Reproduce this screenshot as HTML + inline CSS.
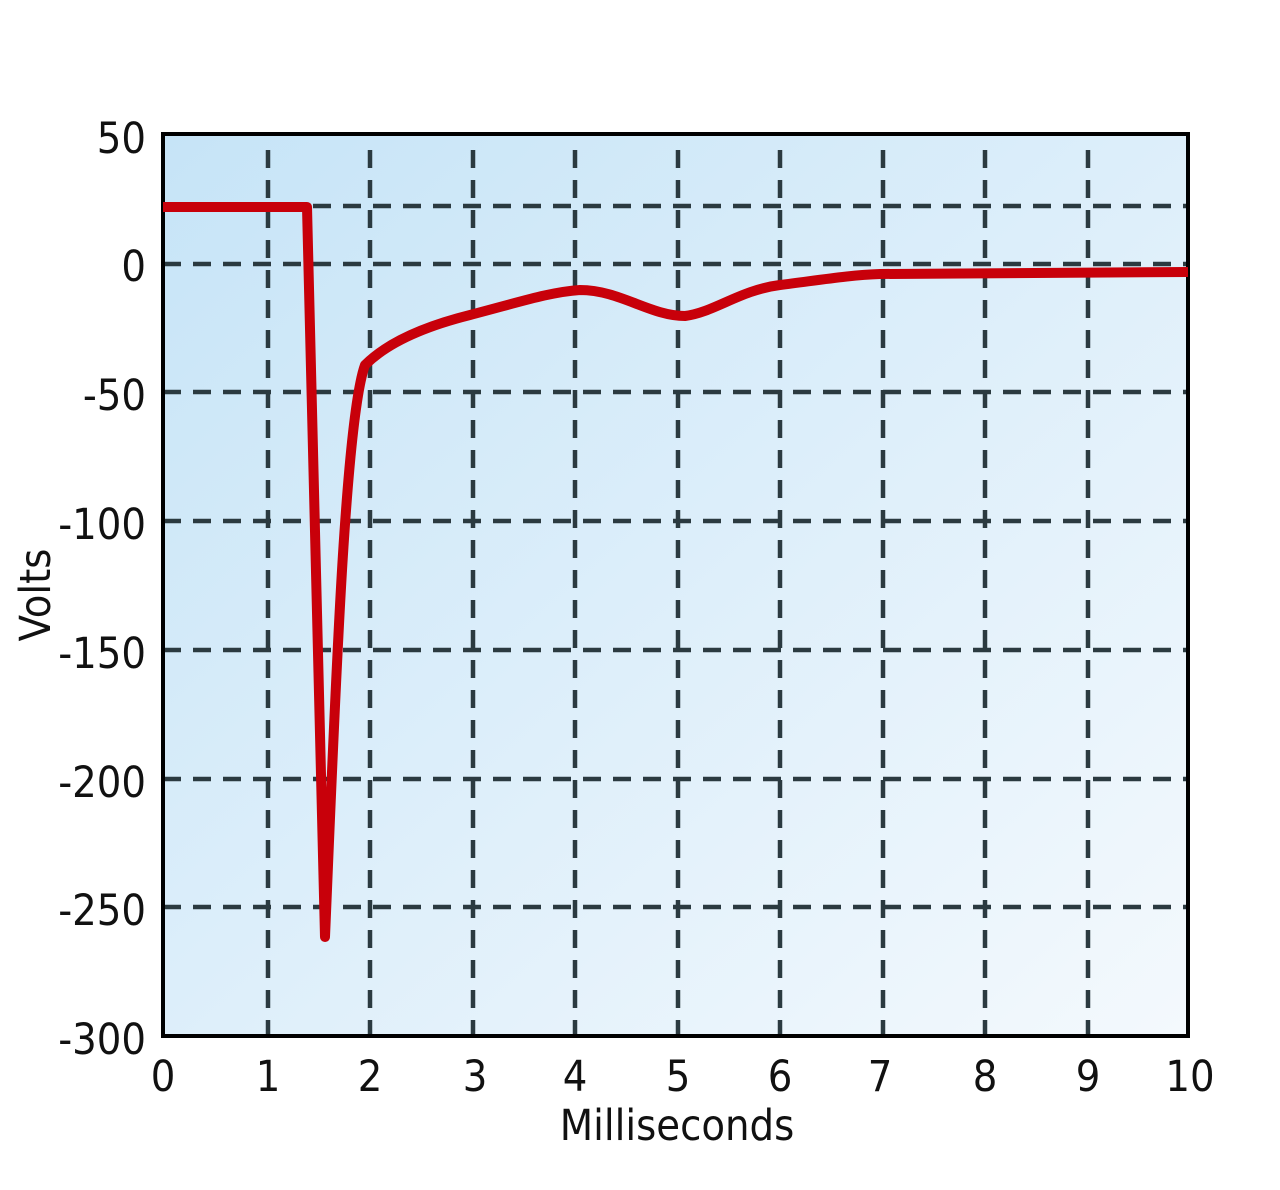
<!DOCTYPE html><html><head><style>body{margin:0;background:#fff}svg{display:block}text{font-family:"DejaVu Sans Condensed","Liberation Sans",sans-serif;fill:#111}</style></head><body>
<svg width="1280" height="1190" viewBox="0 0 1280 1190">
<defs><linearGradient id="g" x1="0" y1="0" x2="1" y2="1"><stop offset="0" stop-color="#c6e4f7"/><stop offset="1" stop-color="#f4f9fd"/></linearGradient></defs>
<rect x="163" y="134" width="1025" height="902" fill="url(#g)"/>
<g stroke="#2b3a40" stroke-width="4.5" stroke-dasharray="18,12" fill="none">
<path d="M268 150V1036M370 150V1036M473 150V1036M575 150V1036M678 150V1036M780 150V1036M883 150V1036M985 150V1036M1088 150V1036"/>
<path d="M163 206H1188M163 264H1188M163 392H1188M163 521H1188M163 650H1188M163 779H1188M163 907H1188"/>
</g>
<rect x="163" y="134" width="1025" height="902" fill="none" stroke="#000" stroke-width="4"/>
<path d="M163 207H307L325 937C335 700 345 420 365 365C390 340 430 325 470 315C520 302 550 292 580 290C620 290 650 316 685 316C715 312 740 290 780 285C820 280 850 275 880 274L1188 272" fill="none" stroke="#c8000a" stroke-width="10" stroke-linejoin="round"/>
<g font-size="43" text-anchor="end">
<text x="146" y="153">50</text><text x="146" y="281">0</text><text x="146" y="410">-50</text><text x="146" y="539">-100</text><text x="146" y="668">-150</text><text x="146" y="797">-200</text><text x="146" y="925">-250</text><text x="146" y="1054">-300</text></g>
<g font-size="43" text-anchor="middle">
<text x="163" y="1091">0</text><text x="268" y="1091">1</text><text x="370" y="1091">2</text><text x="475" y="1091">3</text><text x="575" y="1091">4</text><text x="678" y="1091">5</text><text x="780" y="1091">6</text><text x="880" y="1091">7</text><text x="985" y="1091">8</text><text x="1088" y="1091">9</text><text x="1190" y="1091">10</text>
<text x="677" y="1140">Milliseconds</text>
<text transform="translate(50 595) rotate(-90)">Volts</text></g>
</svg></body></html>
